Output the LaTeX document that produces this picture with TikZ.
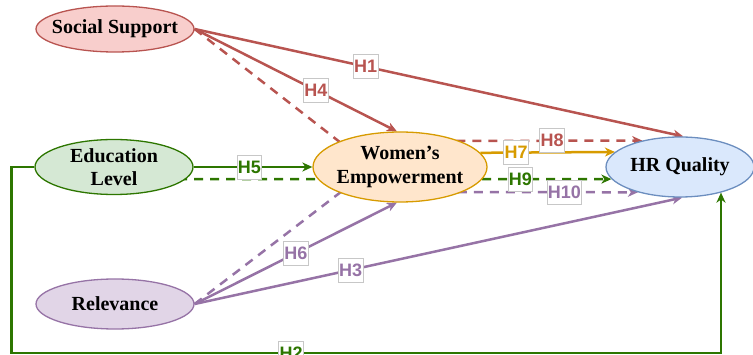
\documentclass[tikz,border=0pt]{standalone}
\usepackage{fontspec}
\setmainfont{Liberation Serif}
\setsansfont{Liberation Sans}
\usetikzlibrary{shapes.geometric,arrows.meta}
\pgfdeclarelayer{bg}
\pgfsetlayers{bg,main}
\definecolor{redS}{HTML}{B85450}
\definecolor{redF}{HTML}{F8CECC}
\definecolor{greenS}{HTML}{2D7600}
\definecolor{greenF}{HTML}{D5E8D4}
\definecolor{purpS}{HTML}{9673A6}
\definecolor{purpF}{HTML}{E1D5E7}
\definecolor{orS}{HTML}{D79B00}
\definecolor{orF}{HTML}{FFE6CC}
\definecolor{blueS}{HTML}{6C8EBF}
\definecolor{blueF}{HTML}{DAE8FC}
\begin{document}
\begin{tikzpicture}[x=1pt,y=-1pt,
  ell/.style={ellipse, line width=1.3pt, inner sep=-40pt, align=center,
    font=\fontsize{20}{23.5}\selectfont\bfseries},
  lab/.style={fill=white, draw=black!22, line width=0.7pt,
    font=\fontsize{18}{18}\sffamily\bfseries\selectfont,
    inner xsep=0.8pt, inner ysep=0pt, minimum height=24pt},
  con/.style={line width=2.5pt},
  tip/.style={-{Stealth[length=10pt,width=9pt,inset=3pt]}},
  dsh/.style={dash pattern=on 9pt off 7pt}]
\useasboundingbox (0,0) rectangle (753,355);
\clip (0,0) rectangle (753,355);
\node[ell, fill=redF, draw=redS, minimum width=158pt, minimum height=46pt] (ss) at (115,29) {Social Support};
\node[ell, fill=greenF, draw=greenS, minimum width=158pt, minimum height=55pt] (el) at (114,167) {Education\\Level};
\node[ell, fill=purpF, draw=purpS, minimum width=158pt, minimum height=50pt] (rel) at (115,304) {Relevance};
\node[ell, fill=orF, draw=orS, minimum width=174pt, minimum height=70pt] (we) at (400,167) {Women’s\\Empowerment};
\node[ell, fill=blueF, draw=blueS, minimum width=148pt, minimum height=60pt] (hr) at (680,167) {HR Quality};
\begin{pgfonlayer}{bg}
\draw[con,redS,tip] (ss.east) -- coordinate[pos=0.35](l1) (hr.84);
\draw[con,redS,tip] (ss.east) -- coordinate[pos=0.6](l4) (we.95);
\draw[con,redS,tip,dsh] (ss.east) -- (350,150) -- (405,141) -- coordinate[pos=0.62](l8) (hr.145);
\draw[con,greenS,tip] (el.east) -- coordinate[pos=0.47](l5) (we.west);
\draw[con,greenS,tip,dsh] (el.center |- 0,179) -- coordinate[pos=0.817](l9) (hr.190);
\draw[con,orS,tip] (we.10.8) -- coordinate[pos=0.265](l7) (hr.167);
\draw[con,purpS,tip,dsh] (rel.east) -- (350,185) -- (420,192) -- coordinate[pos=0.663](l10) (hr.211);
\draw[con,purpS,tip] (rel.east) -- coordinate[pos=0.5](l6) (we.265);
\draw[con,purpS,tip] (rel.east) -- coordinate[pos=0.32](l3) (hr.274);
\draw[con,greenS,tip] (el.west) -- (11.5,167) -- (11.5,353) -- coordinate[pos=0.394](l2) (hr.328.4 |- 0,353) -- (hr.328.4);
\end{pgfonlayer}
\node[lab,text=redS] (t1) at (l1) {H1};
\node[lab,text=redS] (t4) at (l4) {H4};
\node[lab,text=redS] (t8) at (l8) {H8};
\node[lab,text=greenS] (t5) at (l5) {H5};
\node[lab,text=greenS] (t9) at (l9) {H9};
\node[lab,text=orS] (t7) at (l7) {H7};
\node[lab,text=purpS] (t10) at (l10) {H10};
\node[lab,text=purpS] (t6) at (l6) {H6};
\node[lab,text=purpS] (t3) at (l3) {H3};
\node[lab,text=greenS] (t2) at (l2) {H2};
\end{tikzpicture}
\end{document}
